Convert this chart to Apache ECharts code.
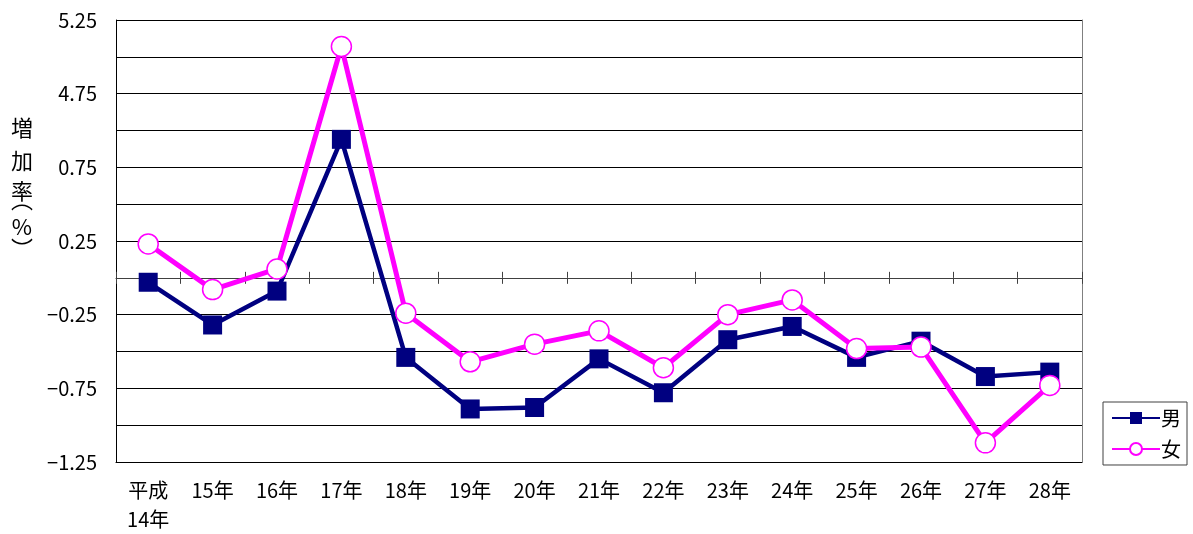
<!DOCTYPE html>
<html>
<head>
<meta charset="utf-8">
<script src="https://cdn.jsdelivr.net/npm/echarts@6/dist/echarts.min.js"></script>
<style>
html,body{margin:0;padding:0;background:#fff;}
#chart{width:1193px;height:534px;}
</style>
</head>
<body>
<div id="chart"></div>
<script>
// ---- data ----
const categories = ['平成\n14年','15年','16年','17年','18年','19年','20年','21年','22年','23年','24年','25年','26年','27年','28年'];
const maleValues   = [-0.03, -0.32, -0.09, 0.94, -0.54, -0.89, -0.88, -0.55, -0.78, -0.42, -0.33, -0.54, -0.43, -0.67, -0.64];
const femaleValues = [0.23, -0.08, 0.06, 5.07, -0.24, -0.57, -0.45, -0.36, -0.61, -0.25, -0.15, -0.48, -0.47, -1.12, -0.73];
const yTickLabels  = ['\u22121.25', '\u22120.75', '\u22120.25', '0.25', '0.75', '4.75', '5.25'];
const seriesNames  = ['男', '女'];
const yTitleChars  = ['増', '加', '率', '︵', '%', '︶'];

// layout of the vertical y-axis title (one glyph per row)
const yTitleRows   = [128, 161, 191, 200, 227, 249];

// broken axis: values above the break are shifted down onto the plotted scale
const breakReal = 4.75;   // label value at the break
const breakPlot = 1.25;   // plotted position of the break
function toPlot(v) { return v > breakPlot ? v - (breakReal - breakPlot) : v; }

const yMin = -1.25, yMax = 1.75, yStep = 0.25;
const FONT = '"Noto Sans CJK JP", "Noto Sans", sans-serif';

const chart = echarts.init(document.getElementById('chart'));
const catAxisBase = { type: 'category', data: categories, boundaryGap: true };

const titleGraphics = yTitleChars.map(function (ch, i) {
  return {
    type: 'text', x: 22, y: yTitleRows[i],
    style: {
      text: ch, fill: '#000', font: '22px ' + FONT,
      align: 'center', verticalAlign: 'middle'
    }
  };
});

chart.setOption({
  animation: false,
  backgroundColor: '#fff',
  textStyle: { fontFamily: FONT, color: '#000' },
  graphic: titleGraphics,
  grid: { left: 116, top: 20, right: 111, bottom: 70, containLabel: false },
  legend: {
    orient: 'vertical',
    left: 1103, top: 402,
    data: seriesNames,
    borderColor: '#404040', borderWidth: 1,
    padding: [6, 6, 6, 8],
    itemWidth: 48, itemHeight: 15, itemGap: 11,
    textStyle: { fontFamily: FONT, fontSize: 20, color: '#000', padding: [0, 0, 0, -4] }
  },
  xAxis: [
    Object.assign({}, catAxisBase, {
      position: 'bottom',
      axisLine: { show: true, onZero: false, lineStyle: { color: '#000', width: 1 } },
      axisTick: { show: false },
      splitLine: { show: false },
      axisLabel: { interval: 0, fontFamily: FONT, fontSize: 20, lineHeight: 29, margin: 14, color: '#000' }
    }),
    Object.assign({}, catAxisBase, {
      position: 'bottom',
      axisLine: { show: true, onZero: true, onZeroAxisIndex: 0, lineStyle: { color: '#404040', width: 1 } },
      axisTick: { show: true, inside: false, length: 6, lineStyle: { color: '#404040' } },
      axisLabel: { show: false },
      splitLine: { show: false }
    }),
    Object.assign({}, catAxisBase, {
      position: 'bottom',
      axisLine: { show: false, onZero: true, onZeroAxisIndex: 0 },
      axisTick: { show: true, inside: true, length: 6, lineStyle: { color: '#404040' } },
      axisLabel: { show: false },
      splitLine: { show: false }
    })
  ],
  yAxis: [
    {
      type: 'value', min: yMin, max: yMax, interval: yStep,
      axisLine: { show: true, lineStyle: { color: '#000', width: 1 } },
      axisTick: { show: false },
      splitLine: { show: true, lineStyle: { color: '#000', width: 1 } },
      axisLabel: {
        fontFamily: FONT, fontSize: 20, color: '#000', margin: 19,
        formatter: function (value) {
          const i = Math.round((value - yMin) / yStep);
          return i % 2 === 0 ? yTickLabels[i / 2] : '';
        }
      }
    },
    {
      type: 'value', min: yMin, max: yMax, interval: yStep, position: 'right',
      axisLine: { show: true, lineStyle: { color: '#808080', width: 1 } },
      axisTick: { show: false },
      splitLine: { show: false },
      axisLabel: { show: false }
    }
  ],
  series: [
    {
      name: seriesNames[0], type: 'line', xAxisIndex: 0, yAxisIndex: 0,
      data: maleValues.map(toPlot),
      symbol: 'rect', symbolSize: 19,
      lineStyle: { color: '#000080', width: 4.5 },
      itemStyle: { color: '#000080', borderWidth: 0 },
      z: 3
    },
    {
      name: seriesNames[1], type: 'line', xAxisIndex: 0, yAxisIndex: 0,
      data: femaleValues.map(toPlot),
      symbol: 'circle', symbolSize: 20,
      lineStyle: { color: '#FF00FF', width: 5 },
      itemStyle: { color: '#FFFFFF', borderColor: '#FF00FF', borderWidth: 1.5 },
      z: 4
    }
  ]
});
</script>
</body>
</html>
